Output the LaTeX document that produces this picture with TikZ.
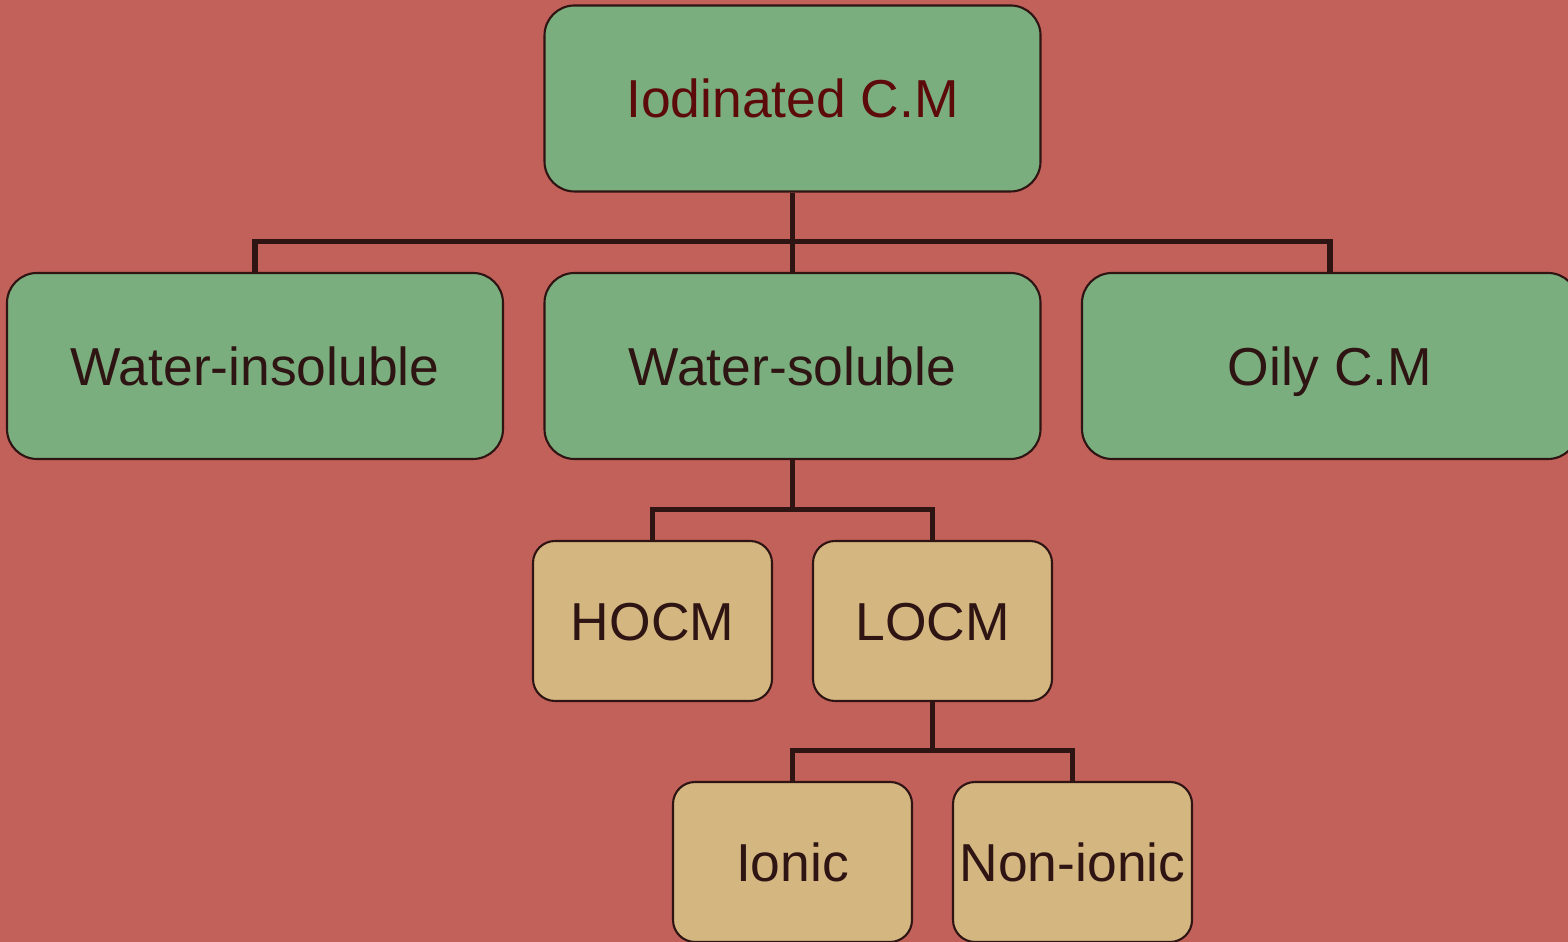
\documentclass[tikz,border=0pt]{standalone}
\usepackage{fontspec}
\setmainfont{Liberation Sans}
\usetikzlibrary{positioning}
\definecolor{bgred}{HTML}{C2605A}
\definecolor{boxgreen}{HTML}{7AAE7E}
\definecolor{boxtan}{HTML}{D4B681}
\definecolor{inkdark}{HTML}{2E1412}
\definecolor{inkred}{HTML}{5C0A0A}
\begin{document}
\begin{tikzpicture}[
    bigbox/.style={draw=inkdark, line width=0.6pt, fill=boxgreen, rounded corners=0.3cm,
      inner sep=0pt, text height=0.39cm, text depth=0cm,
      minimum width=4.96cm, minimum height=1.86cm, text=inkdark,
      font=\fontsize{15.2}{18}\selectfont},
    smallbox/.style={bigbox, fill=boxtan, rounded corners=0.22cm,
      minimum width=2.39cm, minimum height=1.6cm},
    link/.style={draw=inkdark, line width=1.45pt}
  ]
    \fill[bgred] (0,0) rectangle (15.68,9.42);
    \useasboundingbox (0,0) rectangle (15.68,9.42);
    % top and second row
    \node[bigbox, text=inkred] (iodinated) at (7.925,8.435) {Iodinated C.M};
    \node[bigbox] (insoluble) at (2.55,5.76) {Water-insoluble};
    \node[bigbox] (soluble) at (7.925,5.76) {Water-soluble};
    \node[bigbox] (oily) at (13.3,5.76) {Oily C.M};
    % third and fourth row
    \node[smallbox] (hocm) at (6.525,3.21) {HOCM};
    \node[smallbox] (locm) at (9.325,3.21) {LOCM};
    \node[smallbox] (ionic) at (7.925,0.80) {Ionic};
    \node[smallbox] (nonionic) at (10.725,0.80) {Non-ionic};
    % connectors
    \draw[link] (iodinated.south) -- (soluble.north);
    \draw[link] (insoluble.north) -- ++(0,0.30) -| (oily.north);
    \draw[link] (soluble.south) -- ++(0,-0.52) coordinate (busa);
    \draw[link] (hocm.north) -- ++(0,0.30) -| (locm.north);
    \draw[link] (locm.south) -- ++(0,-0.51) coordinate (busb);
    \draw[link] (ionic.north) -- ++(0,0.30) -| (nonionic.north);
\end{tikzpicture}
\end{document}
